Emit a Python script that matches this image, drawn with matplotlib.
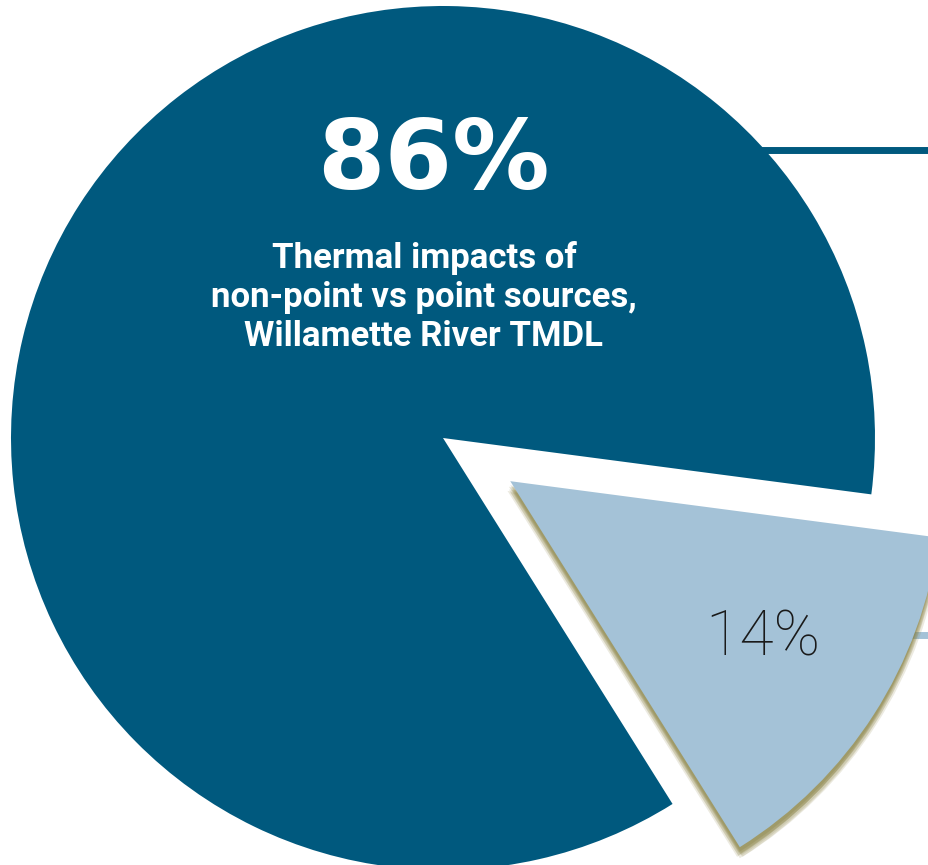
import matplotlib.pyplot as plt
import matplotlib.patheffects as pe

# datos del gráfico
labels = ["Non-point sources", "Point sources"]
shares = [86, 14]
colors = ["#00597e", "#a4c2d7"]
big_label = "86%"
small_label = "14%"
caption = ["Thermal impacts of",
           "non-point vs point sources,",
           "Willamette River TMDL"]

W, H = 929, 865
R = 432
fig = plt.figure(figsize=(W / 100, H / 100), dpi=100)
ax = fig.add_axes([0, 0, 1, 1])

# líneas guía hacia la derecha (detrás del pastel)
ax.plot([740, W], [H - 150, H - 150], color=colors[0], lw=5, solid_capstyle="butt", zorder=1)
ax.plot([880, W], [H - 635, H - 635], color=colors[1], lw=5, solid_capstyle="butt", zorder=1)

# explode va en unidades de datos, así que se escala con el radio
wedges, _ = ax.pie(shares, colors=colors, startangle=-7.5, counterclock=True,
                   explode=[0, 0.185 * R], radius=R, center=(443, H - 438),
                   wedgeprops=dict(linewidth=0), frame=False)
for w in wedges:
    w.set_zorder(2)

# sombra oliva difusa: varias copias desplazadas con poca opacidad
shadow = []
for dx, dy in [(-2, -7), (2, -7), (0, -8), (-1, -6), (1, -6), (0, -5), (-1, -4), (1, -4), (0, -3)]:
    shadow.append(pe.SimplePatchShadow(offset=(dx, dy), shadow_rgbFace="#8a8244", alpha=0.16))
wedges[1].set_path_effects(shadow + [pe.Normal()])

ax.set_xlim(0, W)
ax.set_ylim(0, H)
ax.set_aspect("equal")
ax.set_axis_off()

ax.text(433, H - 163, big_label, color="white", fontsize=70, fontweight="bold",
        family="DejaVu Sans", ha="center", va="center", zorder=3)
for i, line in enumerate(caption):
    ax.text(424, H - 258 - 39 * i, line, color="white", fontsize=25, fontweight="bold",
            family="Roboto", ha="center", va="center", zorder=3)

ax.text(763, H - 638, small_label, color="#1a1a1a", fontsize=45, fontweight="light",
        family="Roboto", ha="center", va="center", zorder=3)

plt.savefig("out.png", dpi=100)
plt.close()
